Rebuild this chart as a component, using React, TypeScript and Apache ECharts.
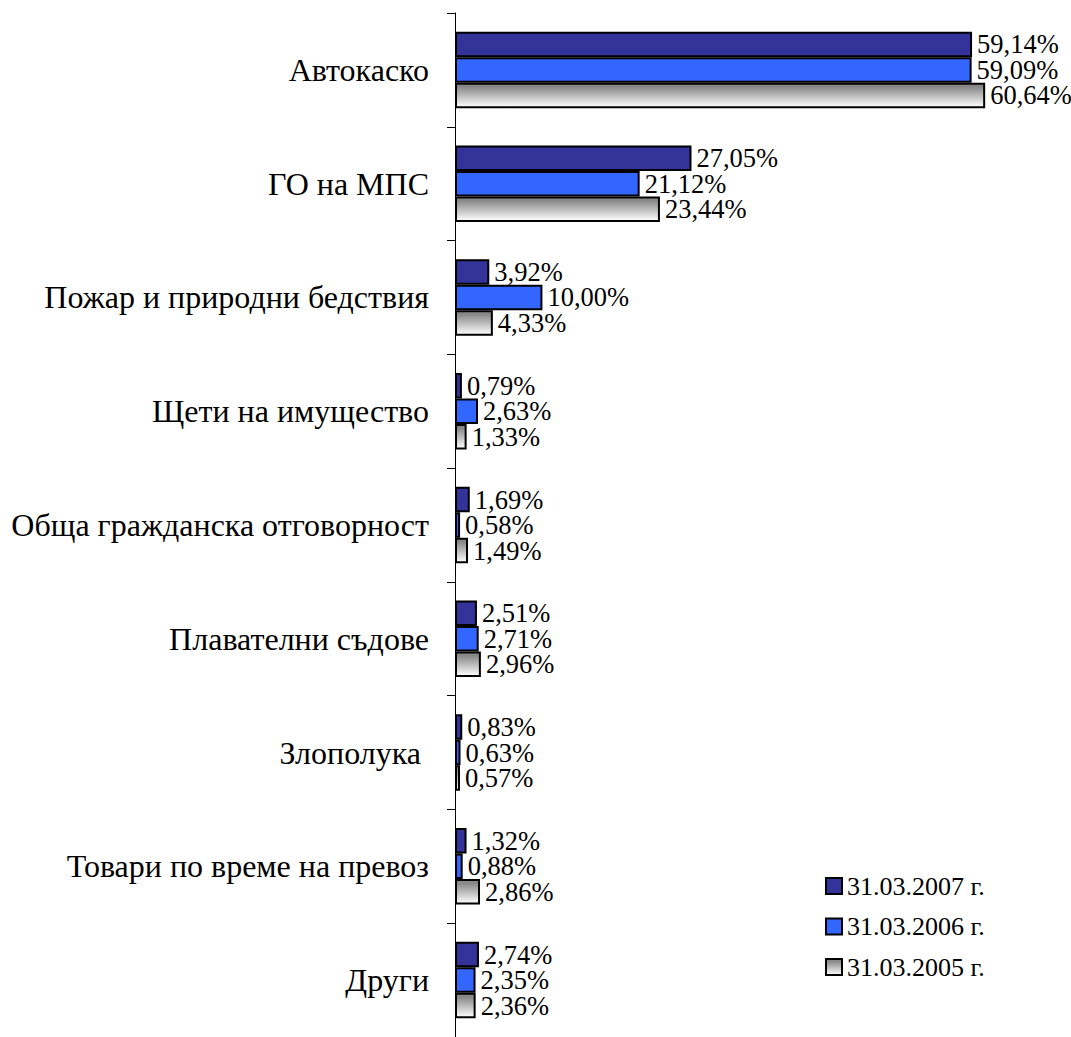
import React, { useEffect, useRef } from "react";
import * as echarts from "echarts";

const categories = [
  "Автокаско",
  "ГО на МПС",
  "Пожар и природни бедствия",
  "Щети на имущество",
  "Обща гражданска отговорност",
  "Плавателни съдове",
  "Злополука ",
  "Товари по време на превоз",
  "Други",
];

const seriesNames = ["31.03.2007 г.", "31.03.2006 г.", "31.03.2005 г."];

const values2007 = [59.14, 27.05, 3.92, 0.79, 1.69, 2.51, 0.83, 1.32, 2.74];
const values2006 = [59.09, 21.12, 10.0, 2.63, 0.58, 2.71, 0.63, 0.88, 2.35];
const values2005 = [60.64, 23.44, 4.33, 1.33, 1.49, 2.96, 0.57, 2.86, 2.36];

const FONT = "Liberation Serif";

export default function App() {
  const ref = useRef<HTMLDivElement>(null);

  useEffect(() => {
    if (!ref.current) return;
    const chart = echarts.init(ref.current, null, { renderer: "svg" });

    const grayGradient = new echarts.graphic.LinearGradient(0, 0, 0, 1, [
      { offset: 0, color: "#8e8e8e" },
      { offset: 0.12, color: "#868686" },
      { offset: 1, color: "#ffffff" },
    ]);

    const fills = ["#333399", "#3366ff", grayGradient];
    const data = [values2007, values2006, values2005];

    const series = data.map((vals, i) => ({
      name: seriesNames[i],
      type: "bar",
      data: vals,
      barWidth: 25.5,
      barGap: "0%",
      itemStyle: {
        color: fills[i],
        borderColor: "#000000",
        borderWidth: 2,
      },
      label: {
        show: true,
        position: "right",
        distance: 5,
        fontSize: 26.5,
        lineHeight: 22,
        fontFamily: FONT,
        color: "#000000",
        formatter: (p: any) => p.value.toFixed(2).replace(".", ",") + "%",
      },
    }));

    chart.setOption({
      animation: false,
      backgroundColor: "#ffffff",
      textStyle: { fontFamily: FONT },
      grid: { left: 455, top: 13, width: 612, height: 1031 },
      xAxis: {
        type: "value",
        min: 0,
        max: 70,
        show: false,
      },
      yAxis: {
        type: "category",
        data: categories,
        inverse: true,
        axisLine: { show: true, lineStyle: { color: "#000000", width: 1 } },
        axisTick: { show: true, length: 8, lineStyle: { color: "#000000" } },
        axisLabel: {
          fontSize: 32,
          fontFamily: FONT,
          color: "#000000",
          margin: 26,
        },
        splitLine: { show: false },
      },
      legend: {
        orient: "vertical",
        left: 820,
        top: 868,
        itemWidth: 16,
        itemHeight: 16,
        itemGap: 14.5,
        icon: "rect",
        textStyle: { fontSize: 26, fontFamily: FONT, color: "#000000" },
        data: seriesNames,
      },
      series,
    });

    return () => chart.dispose();
  }, []);

  return (
    <div
      ref={ref}
      style={{ position: "absolute", left: 0, top: 0, width: 1071, height: 1037, overflow: "hidden" }}
    />
  );
}
